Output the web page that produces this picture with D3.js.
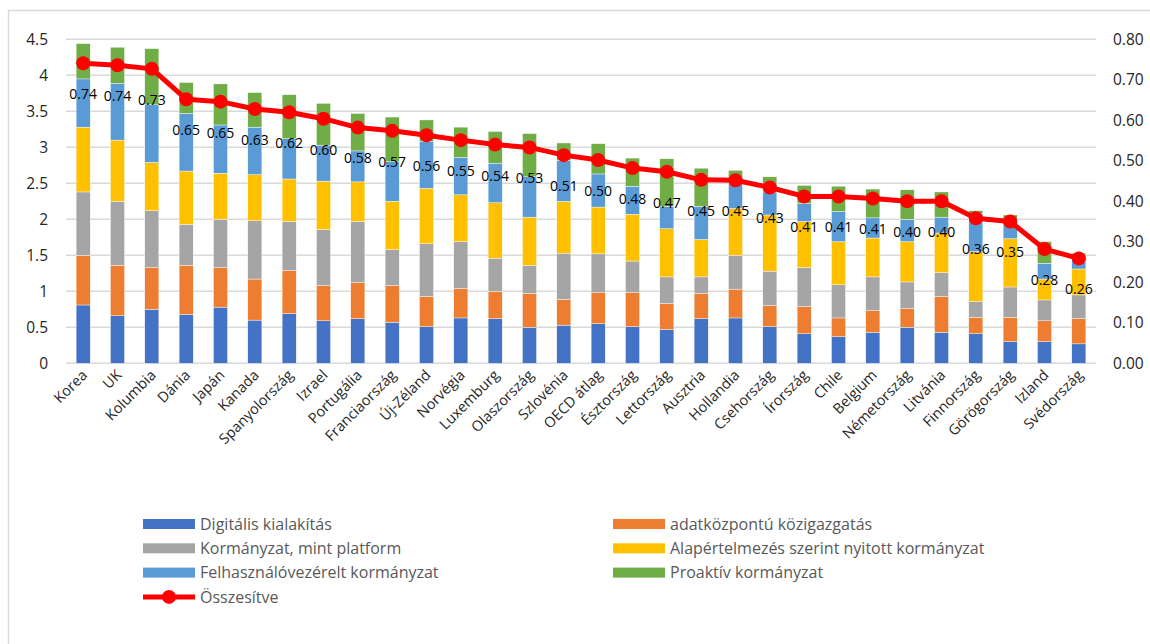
<!DOCTYPE html>
<html>
<head>
<meta charset="utf-8">
<script src="https://cdn.jsdelivr.net/npm/d3@7"></script>
<style>
  body { margin: 0; background: #fff; }
  svg { font-family: "Open Sans", "Noto Sans", sans-serif; }
</style>
</head>
<body>
<svg id="chart" width="1150" height="644"></svg>
<script>
// countries, in chart order
var countries = ['Korea', 'UK', 'Kolumbia', 'Dánia', 'Japán', 'Kanada', 'Spanyolország', 'Izrael',
    'Portugália', 'Franciaország', 'Új-Zéland', 'Norvégia', 'Luxemburg', 'Olaszország', 'Szlovénia',
    'OECD átlag', 'Észtország', 'Lettország', 'Ausztria', 'Hollandia', 'Csehország', 'Írország',
    'Chile', 'Belgium', 'Németország', 'Litvánia', 'Finnország', 'Görögország', 'Izland', 'Svédország'];

// stacked dimensions (left axis)
var digitalis = [0.81, 0.66, 0.75, 0.68, 0.78, 0.60, 0.69, 0.59, 0.62, 0.57, 0.51, 0.63, 0.62, 0.50, 0.53,
    0.55, 0.51, 0.47, 0.62, 0.63, 0.51, 0.41, 0.37, 0.43, 0.50, 0.43, 0.41, 0.30, 0.30, 0.27];
var adatkozpontu = [0.69, 0.70, 0.58, 0.68, 0.55, 0.57, 0.60, 0.49, 0.50, 0.51, 0.42, 0.41, 0.38, 0.47, 0.36,
    0.43, 0.47, 0.36, 0.35, 0.40, 0.29, 0.38, 0.26, 0.30, 0.26, 0.50, 0.23, 0.34, 0.29, 0.35];
var platform = [0.88, 0.89, 0.79, 0.57, 0.67, 0.81, 0.68, 0.78, 0.85, 0.50, 0.73, 0.65, 0.46, 0.39, 0.64,
    0.54, 0.44, 0.37, 0.23, 0.47, 0.48, 0.54, 0.46, 0.47, 0.37, 0.33, 0.22, 0.42, 0.29, 0.33];
var nyitott = [0.90, 0.85, 0.67, 0.74, 0.64, 0.64, 0.59, 0.67, 0.55, 0.67, 0.77, 0.65, 0.77, 0.67, 0.72,
    0.65, 0.65, 0.67, 0.52, 0.65, 0.78, 0.64, 0.60, 0.54, 0.56, 0.55, 0.69, 0.67, 0.29, 0.36];
var felhasznalo = [0.67, 0.79, 0.80, 0.80, 0.67, 0.66, 0.56, 0.50, 0.43, 0.55, 0.65, 0.52, 0.55, 0.56, 0.57,
    0.46, 0.39, 0.31, 0.46, 0.41, 0.32, 0.25, 0.42, 0.28, 0.31, 0.22, 0.53, 0.27, 0.22, 0.19];
var proaktiv = [0.49, 0.50, 0.78, 0.43, 0.57, 0.48, 0.61, 0.58, 0.52, 0.62, 0.30, 0.42, 0.44, 0.60, 0.24,
    0.42, 0.39, 0.66, 0.53, 0.12, 0.21, 0.25, 0.35, 0.40, 0.41, 0.35, 0.04, 0.06, 0.30, 0.03];

// composite index (right axis)
var osszesitve = [0.741, 0.736, 0.727, 0.652, 0.646, 0.628, 0.620, 0.604, 0.582, 0.574, 0.563, 0.551, 0.540,
    0.533, 0.514, 0.502, 0.482, 0.473, 0.453, 0.452, 0.434, 0.412, 0.412, 0.407, 0.400, 0.400, 0.358, 0.350,
    0.282, 0.259];

var seriesNames = ['Digitális kialakítás', 'adatközpontú közigazgatás', 'Kormányzat, mint platform',
    'Alapértelmezés szerint nyitott kormányzat', 'Felhasználóvezérelt kormányzat', 'Proaktív kormányzat'];
var seriesValues = [digitalis, adatkozpontu, platform, nyitott, felhasznalo, proaktiv];
var lineName = 'Összesítve';

var leftTicks = [0, 0.5, 1, 1.5, 2, 2.5, 3, 3.5, 4, 4.5];
var rightTicks = [0, 0.1, 0.2, 0.3, 0.4, 0.5, 0.6, 0.7, 0.8];

var colors = ['#4472C4', '#ED7D31', '#A5A5A5', '#FFC000', '#5B9BD5', '#70AD47'];
var lineColor = '#FF0000';

var svg = d3.select('#chart');

// chart frame
svg.append('rect')
    .attr('x', 8.5).attr('y', 10.5)
    .attr('width', 1200).attr('height', 700)
    .attr('fill', 'none').attr('stroke', '#d9d9d9').attr('stroke-width', 1.5);

var x = d3.scaleBand().domain(countries).range([66, 1096]).paddingInner(0.59).paddingOuter(0.295);
var yL = d3.scaleLinear().domain([0, 4.5]).range([363.3, 39.3]);
var yR = d3.scaleLinear().domain([0, 0.8]).range([363.3, 39.3]);

// gridlines
svg.append('g').selectAll('line')
    .data(leftTicks)
    .enter().append('line')
    .attr('x1', 66).attr('x2', 1096)
    .attr('y1', function (d) { return yL(d); })
    .attr('y2', function (d) { return yL(d); })
    .attr('stroke', '#d9d9d9').attr('stroke-width', 1.5);

// left axis labels
svg.append('g').selectAll('text')
    .data(leftTicks)
    .enter().append('text')
    .attr('x', 48)
    .attr('y', function (d) { return yL(d); })
    .attr('dy', '0.35em')
    .attr('text-anchor', 'end')
    .attr('font-size', 15.5)
    .attr('fill', '#262626')
    .text(function (d) { return d3.format('')(d); });

// right axis labels
svg.append('g').selectAll('text')
    .data(rightTicks)
    .enter().append('text')
    .attr('x', 1113)
    .attr('y', function (d) { return yR(d); })
    .attr('dy', '0.35em')
    .attr('font-size', 15.5)
    .attr('fill', '#262626')
    .text(function (d) { return d3.format('.2f')(d); });

// stacked bars
var rows = countries.map(function (c, i) {
    var r = { country: c };
    seriesNames.forEach(function (s, j) { r[s] = seriesValues[j][i]; });
    return r;
});
var stacked = d3.stack().keys(seriesNames)(rows);

svg.append('g').selectAll('g')
    .data(stacked)
    .enter().append('g')
    .attr('fill', function (d, i) { return colors[i]; })
    .selectAll('rect')
    .data(function (d) { return d; })
    .enter().append('rect')
    .attr('x', function (d) { return x(d.data.country); })
    .attr('width', x.bandwidth())
    .attr('y', function (d) { return yL(d[1]); })
    .attr('height', function (d) { return yL(d[0]) - yL(d[1]); })
    .attr('stroke', '#fff').attr('stroke-width', 0.4);

// x labels, rotated
svg.append('g').selectAll('text')
    .data(countries)
    .enter().append('text')
    .attr('transform', function (d) {
        return 'translate(' + (x(d) + x.bandwidth() / 2 + 5) + ',376) rotate(-45)';
    })
    .attr('text-anchor', 'end')
    .attr('font-size', 14.5)
    .attr('fill', '#262626')
    .text(function (d) { return d; });

// composite line
var cx = function (i) { return x(countries[i]) + x.bandwidth() / 2; };
var line = d3.line()
    .x(function (d, i) { return cx(i); })
    .y(function (d) { return yR(d); });

svg.append('path')
    .datum(osszesitve)
    .attr('d', line)
    .attr('fill', 'none')
    .attr('stroke', lineColor)
    .attr('stroke-width', 5)
    .attr('stroke-linejoin', 'round');

svg.append('g').selectAll('circle')
    .data(osszesitve)
    .enter().append('circle')
    .attr('cx', function (d, i) { return cx(i); })
    .attr('cy', function (d) { return yR(d); })
    .attr('r', 7)
    .attr('fill', lineColor);

// data labels below the points
svg.append('g').selectAll('text')
    .data(osszesitve)
    .enter().append('text')
    .attr('x', function (d, i) { return cx(i); })
    .attr('y', function (d) { return yR(d) + 31; })
    .attr('dy', '0.35em')
    .attr('text-anchor', 'middle')
    .attr('font-size', 14)
    .attr('fill', '#000')
    .text(function (d) { return d.toFixed(2); });

// legend
var legend = svg.append('g').attr('font-size', 16).attr('fill', '#595959');
seriesNames.forEach(function (name, i) {
    var col = i % 2, row = Math.floor(i / 2);
    var lx = col === 0 ? 143 : 613, ly = 524 + row * 24.3;
    legend.append('rect')
        .attr('x', lx).attr('y', ly - 5).attr('width', 52).attr('height', 10)
        .attr('fill', colors[i]);
    legend.append('text')
        .attr('x', lx + 57).attr('y', ly).attr('dy', '0.35em')
        .text(name);
});
var ly = 524 + 3 * 24.3;
legend.append('line')
    .attr('x1', 143).attr('x2', 195).attr('y1', ly).attr('y2', ly)
    .attr('stroke', lineColor).attr('stroke-width', 5);
legend.append('circle')
    .attr('cx', 169).attr('cy', ly).attr('r', 7).attr('fill', lineColor);
legend.append('text')
    .attr('x', 200).attr('y', ly).attr('dy', '0.35em')
    .text(lineName);
</script>
</body>
</html>
